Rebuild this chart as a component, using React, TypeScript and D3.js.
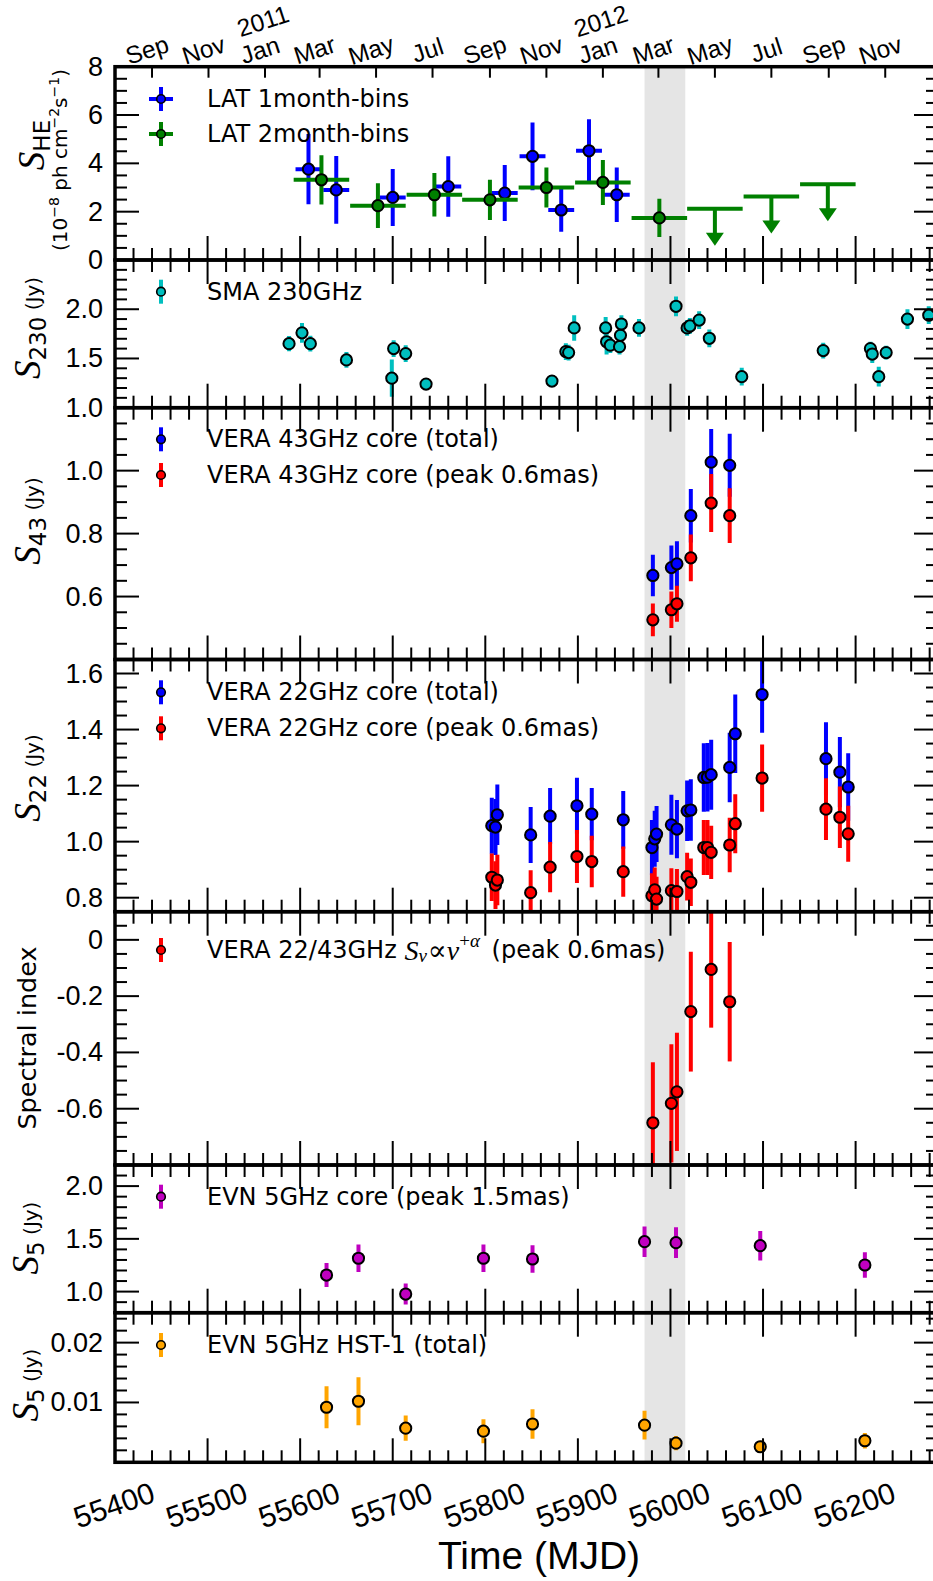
import React from "react";
import * as d3 from "d3";

const W = 933;
const H = 1581;

// time axis
const mjdStart = 55400;
const mjdEnd = 56289;
const mjdLabels = [55400, 55500, 55600, 55700, 55800, 55900, 56000, 56100, 56200];
const monthNames = ["Sep", "Nov", "Jan", "Mar", "May", "Jul", "Sep", "Nov", "Jan", "Mar", "May", "Jul", "Sep", "Nov"];
const monthMjd = [55440, 55501, 55562, 55621, 55682, 55743, 55805, 55866, 55927, 55987, 56048, 56109, 56171, 56232];
const yearNames = ["2011", "2012"];
const yearMjd = [55562, 55927];
const flareSpan = [55972, 56016];

// Fermi-LAT
const lat1Mjd = [55609, 55639, 55700, 55760, 55821, 55851, 55882, 55912, 55942];
const lat1Flux = [3.76, 2.9, 2.59, 3.04, 2.77, 4.29, 2.07, 4.52, 2.7];
const lat1Err = [1.45, 1.4, 1.18, 1.25, 1.16, 1.4, 0.9, 1.3, 1.13];
const lat2Mjd = [55623, 55684, 55745, 55805, 55866, 55927, 55988];
const lat2Flux = [3.32, 2.25, 2.7, 2.49, 3.0, 3.21, 1.74];
const lat2Err = [1.02, 0.93, 0.9, 0.83, 0.83, 0.93, 0.79];
const lat2UlMjd = [56048, 56109, 56170];
const lat2UlFlux = [2.12, 2.63, 3.13];

// SMA 230 GHz
const smaMjd = [55588, 55602, 55611, 55650, 55699, 55701, 55714, 55736, 55872, 55887, 55890, 55896, 55930, 55931, 55935, 55945, 55946, 55947, 55966, 56006, 56018, 56021, 56031, 56042, 56077, 56165, 56216, 56218, 56225, 56233, 56256, 56279];
const smaFlux = [1.65, 1.76, 1.65, 1.485, 1.3, 1.6, 1.55, 1.24, 1.27, 1.57, 1.56, 1.81, 1.81, 1.67, 1.635, 1.62, 1.735, 1.85, 1.81, 2.03, 1.81, 1.83, 1.89, 1.705, 1.315, 1.58, 1.6, 1.545, 1.315, 1.56, 1.9, 1.94];
const smaErr = [0.077, 0.1, 0.08, 0.08, 0.19, 0.085, 0.085, 0.06, 0.06, 0.085, 0.08, 0.13, 0.11, 0.13, 0.08, 0.08, 0.09, 0.09, 0.09, 0.1, 0.08, 0.08, 0.09, 0.09, 0.09, 0.08, 0.07, 0.09, 0.1, 0.07, 0.1, 0.09];

// VERA 43 GHz
const v43Mjd = [55981, 56001, 56007, 56022, 56044, 56064];
const v43Total = [0.667, 0.692, 0.704, 0.857, 1.027, 1.017];
const v43TotalErr = [0.066, 0.07, 0.072, 0.085, 0.105, 0.1];
const v43Peak = [0.526, 0.558, 0.577, 0.723, 0.897, 0.857];
const v43PeakErr = [0.052, 0.058, 0.057, 0.074, 0.092, 0.087];

// VERA 22 GHz
const v22Mjd = [55807, 55811, 55813, 55849, 55870, 55899, 55915, 55949, 55980, 55983, 55985, 56001, 56007, 56018, 56022, 56036, 56040, 56044, 56064, 56070, 56099, 56168, 56183, 56192];
const v22Total = [1.057, 1.052, 1.096, 1.024, 1.091, 1.128, 1.098, 1.078, 0.979, 1.01, 1.027, 1.06, 1.045, 1.11, 1.113, 1.229, 1.23, 1.239, 1.265, 1.385, 1.525, 1.296, 1.248, 1.195];
const v22TotalErr = [0.1, 0.1, 0.108, 0.1, 0.1, 0.1, 0.093, 0.103, 0.098, 0.1, 0.1, 0.107, 0.104, 0.108, 0.11, 0.122, 0.122, 0.125, 0.124, 0.14, 0.136, 0.13, 0.125, 0.12];
const v22Peak = [0.873, 0.845, 0.863, 0.818, 0.909, 0.947, 0.929, 0.893, 0.807, 0.828, 0.795, 0.825, 0.822, 0.875, 0.855, 0.979, 0.979, 0.962, 0.988, 1.064, 1.227, 1.116, 1.087, 1.028];
const v22PeakErr = [0.085, 0.085, 0.09, 0.08, 0.09, 0.095, 0.092, 0.09, 0.08, 0.08, 0.08, 0.08, 0.08, 0.085, 0.085, 0.098, 0.098, 0.095, 0.097, 0.105, 0.12, 0.11, 0.11, 0.1];

// spectral index 22/43
const siMjd = [55981, 56001, 56007, 56022, 56044, 56064];
const siValue = [-0.65, -0.581, -0.54, -0.255, -0.105, -0.22];
const siErr = [0.215, 0.21, 0.21, 0.213, 0.207, 0.212];

// EVN 5 GHz
const evnMjd = [55628.5, 55663, 55714, 55798, 55851, 55972, 56006, 56097, 56210];
const evnCore = [1.157, 1.316, 0.977, 1.316, 1.309, 1.473, 1.464, 1.435, 1.252];
const evnCoreErr = [0.114, 0.13, 0.1, 0.13, 0.13, 0.145, 0.145, 0.14, 0.12];
const evnHst = [0.0092, 0.0102, 0.0057, 0.0052, 0.0064, 0.0062, 0.0032, 0.0026, 0.0036];
const evnHstErr = [0.0035, 0.004, 0.0021, 0.002, 0.00245, 0.0024, 0.0012, 0.001, 0.0013];

const LEFT = 115;
const RIGHT = 938;
const TICK_FONT = "'Liberation Sans', Arial, sans-serif";
const TEXT_FONT = "'DejaVu Sans', sans-serif";
const MATH_FONT = "'Liberation Serif', 'DejaVu Serif', serif";

function stepTicks(d0: number, d1: number, step: number) {
  const out: number[] = [];
  const n0 = Math.ceil(d0 / step - 1e-6);
  const n1 = Math.floor(d1 / step + 1e-6);
  for (let i = n0; i <= n1; i++) out.push(+(i * step).toFixed(6));
  return out;
}

function isMultiple(v: number, step: number) {
  const r = v / step;
  return Math.abs(r - Math.round(r)) < 1e-6;
}

function Series({ xs, ys, es, color, x, y, xerr = 0, r = 5.6 }: any) {
  return (
    <g>
      {xs.map((m: number, i: number) => (
        <g key={"e" + i}>
          <line x1={x(m)} x2={x(m)} y1={y(ys[i] - es[i])} y2={y(ys[i] + es[i])} stroke={color} strokeWidth={4} />
          {xerr > 0 && (
            <line x1={x(m - xerr)} x2={x(m + xerr)} y1={y(ys[i])} y2={y(ys[i])} stroke={color} strokeWidth={4} />
          )}
        </g>
      ))}
      {xs.map((m: number, i: number) => (
        <circle key={"m" + i} cx={x(m)} cy={y(ys[i])} r={r} fill={color} stroke="#000" strokeWidth={2} />
      ))}
    </g>
  );
}

function LegendItem({ y, color, label, hbar = false, children }: any) {
  return (
    <g>
      <line x1={161} x2={161} y1={y - 12} y2={y + 12} stroke={color} strokeWidth={4} />
      {hbar && <line x1={149} x2={173} y1={y} y2={y} stroke={color} strokeWidth={4} />}
      <circle cx={161} cy={y} r={4.3} fill={color} stroke="#000" strokeWidth={1.6} />
      <text x={207} y={y} dominantBaseline="central" fontFamily={TEXT_FONT} fontSize={24}>
        {label}
        {children}
      </text>
    </g>
  );
}

function PanelAxes({ top, bottom, y, major, minor, labels, fmt, x, monthTop }: any) {
  const [d0, d1] = y.domain();
  const yMajor = stepTicks(d0, d1, major);
  const yMinor = stepTicks(d0, d1, minor).filter((v) => !isMultiple(v, major));
  const xMajor = stepTicks(mjdStart, mjdEnd, 100);
  const xMinor = stepTicks(mjdStart, mjdEnd, 20).filter((v) => !isMultiple(v, 100));
  return (
    <g stroke="#000" strokeWidth={2}>
      {xMajor.map((m) => (
        <line key={"xb" + m} x1={x(m)} x2={x(m)} y1={bottom} y2={bottom - 24} />
      ))}
      {xMinor.map((m) => (
        <line key={"xbm" + m} x1={x(m)} x2={x(m)} y1={bottom} y2={bottom - 12} />
      ))}
      {!monthTop &&
        xMajor.map((m) => <line key={"xt" + m} x1={x(m)} x2={x(m)} y1={top} y2={top + 24} />)}
      {!monthTop &&
        xMinor.map((m) => <line key={"xtm" + m} x1={x(m)} x2={x(m)} y1={top} y2={top + 12} />)}
      {monthTop &&
        monthMjd.map((m, i) => <line key={"mt" + i} x1={x(m)} x2={x(m)} y1={top} y2={top + 11} />)}
      {yMajor.map((v) => (
        <g key={"ym" + v}>
          <line x1={LEFT} x2={LEFT + 24} y1={y(v)} y2={y(v)} />
          <line x1={RIGHT} x2={RIGHT - 24} y1={y(v)} y2={y(v)} />
        </g>
      ))}
      {yMinor.map((v) => (
        <g key={"yn" + v}>
          <line x1={LEFT} x2={LEFT + 12} y1={y(v)} y2={y(v)} />
          <line x1={RIGHT} x2={RIGHT - 12} y1={y(v)} y2={y(v)} />
        </g>
      ))}
      <g stroke="none" fill="#000" fontFamily={TICK_FONT} fontSize={27} textAnchor="end">
        {labels.map((v: number) => (
          <text key={"l" + v} x={103} y={y(v)} dominantBaseline="central">
            {fmt(v)}
          </text>
        ))}
      </g>
      <rect x={LEFT} y={top} width={RIGHT - LEFT} height={bottom - top} fill="none" strokeWidth={3.5} />
    </g>
  );
}

function SLabel({ cx, cy, sub, unit = " (Jy)" }: any) {
  return (
    <text transform={`translate(${cx},${cy}) rotate(-90)`} textAnchor="middle" fill="#000">
      <tspan fontFamily={MATH_FONT} fontStyle="italic" fontSize={37}>S</tspan>
      <tspan fontFamily={TEXT_FONT} fontSize={23} dy={6}>{sub}</tspan>
      <tspan fontFamily={TEXT_FONT} fontSize={20} dy={-6}>{unit}</tspan>
    </text>
  );
}

export default function App() {
  const x = d3.scaleLinear().domain([mjdStart, mjdEnd]).range([LEFT, RIGHT]);
  const yHe = d3.scaleLinear().domain([0, 8]).range([260, 66.7]);
  const ySma = d3.scaleLinear().domain([1.0, 2.5]).range([407.7, 260]);
  const y43 = d3.scaleLinear().domain([0.4, 1.2]).range([659.5, 407.7]);
  const y22 = d3.scaleLinear().domain([0.75, 1.65]).range([911.7, 659.5]);
  const ySi = d3.scaleLinear().domain([-0.8, 0.1]).range([1165, 911.7]);
  const yCore = d3.scaleLinear().domain([0.8, 2.2]).range([1312.7, 1165]);
  const yHst = d3.scaleLinear().domain([0, 0.025]).range([1462.3, 1312.7]);

  const panels = [
    { id: "he", y: yHe, major: 2, minor: 0.5, labels: [0, 2, 4, 6, 8], fmt: (v: number) => String(v), monthTop: true },
    { id: "sma", y: ySma, major: 0.5, minor: 0.1, labels: [1.0, 1.5, 2.0], fmt: (v: number) => v.toFixed(1) },
    { id: "s43", y: y43, major: 0.2, minor: 0.05, labels: [0.6, 0.8, 1.0], fmt: (v: number) => v.toFixed(1) },
    { id: "s22", y: y22, major: 0.2, minor: 0.05, labels: [0.8, 1.0, 1.2, 1.4, 1.6], fmt: (v: number) => v.toFixed(1) },
    { id: "si", y: ySi, major: 0.2, minor: 0.05, labels: [-0.6, -0.4, -0.2, 0], fmt: (v: number) => (v === 0 ? "0" : v.toFixed(1)) },
    { id: "core", y: yCore, major: 0.5, minor: 0.1, labels: [1.0, 1.5, 2.0], fmt: (v: number) => v.toFixed(1) },
    { id: "hst", y: yHst, major: 0.01, minor: 0.002, labels: [0.01, 0.02], fmt: (v: number) => v.toFixed(2) },
  ];

  return (
    <svg width={W} height={H} style={{ position: "absolute", left: 0, top: 0, background: "#fff" }}>
      <defs>
        {panels.map((p) => {
          const [b, t] = p.y.range();
          return (
            <clipPath key={p.id} id={"clip-" + p.id}>
              <rect x={LEFT} y={t} width={RIGHT - LEFT} height={b - t} />
            </clipPath>
          );
        })}
      </defs>

      {/* flare period */}
      <rect x={x(flareSpan[0])} y={66.7} width={x(flareSpan[1]) - x(flareSpan[0])} height={1462.3 - 66.7} fill="#e5e5e5" />

      <g clipPath="url(#clip-he)">
        <Series xs={lat1Mjd} ys={lat1Flux} es={lat1Err} color="#0000ff" x={x} y={yHe} xerr={14} />
        <Series xs={lat2Mjd} ys={lat2Flux} es={lat2Err} color="#008000" x={x} y={yHe} xerr={30} />
        {lat2UlMjd.map((m, i) => {
          const cx = x(m);
          const cy = yHe(lat2UlFlux[i]);
          return (
            <g key={"ul" + i}>
              <line x1={x(m - 30)} x2={x(m + 30)} y1={cy} y2={cy} stroke="#008000" strokeWidth={4} />
              <line x1={cx} x2={cx} y1={cy} y2={cy + 26} stroke="#008000" strokeWidth={4} />
              <path d={`M${cx - 9},${cy + 24} L${cx + 9},${cy + 24} L${cx},${cy + 37} Z`} fill="#008000" />
            </g>
          );
        })}
      </g>
      <g clipPath="url(#clip-sma)">
        <Series xs={smaMjd} ys={smaFlux} es={smaErr} color="#00bfbf" x={x} y={ySma} />
      </g>
      <g clipPath="url(#clip-s43)">
        <Series xs={v43Mjd} ys={v43Total} es={v43TotalErr} color="#0000ff" x={x} y={y43} />
        <Series xs={v43Mjd} ys={v43Peak} es={v43PeakErr} color="#ff0000" x={x} y={y43} />
      </g>
      <g clipPath="url(#clip-s22)">
        <Series xs={v22Mjd} ys={v22Total} es={v22TotalErr} color="#0000ff" x={x} y={y22} />
        <Series xs={v22Mjd} ys={v22Peak} es={v22PeakErr} color="#ff0000" x={x} y={y22} />
      </g>
      <g clipPath="url(#clip-si)">
        <Series xs={siMjd} ys={siValue} es={siErr} color="#ff0000" x={x} y={ySi} />
      </g>
      <g clipPath="url(#clip-core)">
        <Series xs={evnMjd} ys={evnCore} es={evnCoreErr} color="#bf00bf" x={x} y={yCore} />
      </g>
      <g clipPath="url(#clip-hst)">
        <Series xs={evnMjd} ys={evnHst} es={evnHstErr} color="#ffa500" x={x} y={yHst} />
      </g>

      {panels.map((p) => {
        const [b, t] = p.y.range();
        return (
          <PanelAxes key={p.id} top={t} bottom={b} y={p.y} major={p.major} minor={p.minor} labels={p.labels} fmt={p.fmt} x={x} monthTop={p.monthTop} />
        );
      })}

      {/* legends */}
      <LegendItem y={99} color="#0000ff" label="LAT 1month-bins" hbar />
      <LegendItem y={134} color="#008000" label="LAT 2month-bins" hbar />
      <LegendItem y={291.7} color="#00bfbf" label="SMA 230GHz" />
      <LegendItem y={439.3} color="#0000ff" label="VERA 43GHz core (total)" />
      <LegendItem y={475} color="#ff0000" label="VERA 43GHz core (peak 0.6mas)" />
      <LegendItem y={692.3} color="#0000ff" label="VERA 22GHz core (total)" />
      <LegendItem y={728.3} color="#ff0000" label="VERA 22GHz core (peak 0.6mas)" />
      <LegendItem y={950} color="#ff0000" label="VERA 22/43GHz ">
        <tspan fontFamily={MATH_FONT} fontStyle="italic" fontSize={28}>S</tspan>
        <tspan fontFamily={MATH_FONT} fontStyle="italic" fontSize={19} dy={5}>ν</tspan>
        <tspan fontFamily={MATH_FONT} fontSize={28} dy={-5} dx={1}>∝</tspan>
        <tspan fontFamily={MATH_FONT} fontStyle="italic" fontSize={28}>ν</tspan>
        <tspan fontFamily={MATH_FONT} fontSize={19} dy={-10}>+</tspan>
        <tspan fontFamily={MATH_FONT} fontStyle="italic" fontSize={19}>α</tspan>
        <tspan dy={10} dx={4}> (peak 0.6mas)</tspan>
      </LegendItem>
      <LegendItem y={1196.7} color="#bf00bf" label="EVN 5GHz core (peak 1.5mas)" />
      <LegendItem y={1345} color="#ffa500" label="EVN 5GHz HST-1 (total)" />

      {/* y axis titles */}
      <text transform="translate(44,145) rotate(-90)" textAnchor="middle">
        <tspan fontFamily={MATH_FONT} fontStyle="italic" fontSize={37}>S</tspan>
        <tspan fontFamily={TEXT_FONT} fontSize={23} dy={6}>HE</tspan>
      </text>
      <text transform="translate(67,160) rotate(-90)" textAnchor="middle" fontFamily={TEXT_FONT} fontSize={20}>
        <tspan>(10</tspan>
        <tspan fontSize={14} dy={-8}>−8</tspan>
        <tspan dy={8}> ph cm</tspan>
        <tspan fontSize={14} dy={-8}>−2</tspan>
        <tspan dy={8}>s</tspan>
        <tspan fontSize={14} dy={-8}>−1</tspan>
        <tspan dy={8}>)</tspan>
      </text>
      <SLabel cx={40} cy={328} sub="230" />
      <SLabel cx={40} cy={521} sub="43" />
      <SLabel cx={40} cy={778} sub="22" />
      <text transform="translate(36,1038) rotate(-90)" textAnchor="middle" fontFamily={TEXT_FONT} fontSize={25.5}>
        Spectral index
      </text>
      <SLabel cx={38} cy={1238} sub="5" />
      <SLabel cx={38} cy={1385} sub="5" />

      {/* top month axis */}
      <g fontFamily={TICK_FONT} fontSize={24.5} textAnchor="middle">
        {monthMjd.map((m, i) => (
          <text key={"mn" + i} transform={`translate(${x(m) - 5},50) rotate(-18)`} dominantBaseline="central">
            {monthNames[i]}
          </text>
        ))}
        {yearMjd.map((m, i) => (
          <text key={"yr" + i} transform={`translate(${x(m) - 2},21) rotate(-18)`} dominantBaseline="central">
            {yearNames[i]}
          </text>
        ))}
      </g>

      {/* bottom MJD axis */}
      <g fontFamily={TICK_FONT} fontSize={30} textAnchor="middle">
        {mjdLabels.map((m) => (
          <text key={"mj" + m} transform={`translate(${x(m) - 1},1505) rotate(-19)`} dominantBaseline="central">
            {m}
          </text>
        ))}
      </g>
      <text x={539} y={1569} textAnchor="middle" fontFamily={TICK_FONT} fontSize={39}>
        Time (MJD)
      </text>
    </svg>
  );
}
